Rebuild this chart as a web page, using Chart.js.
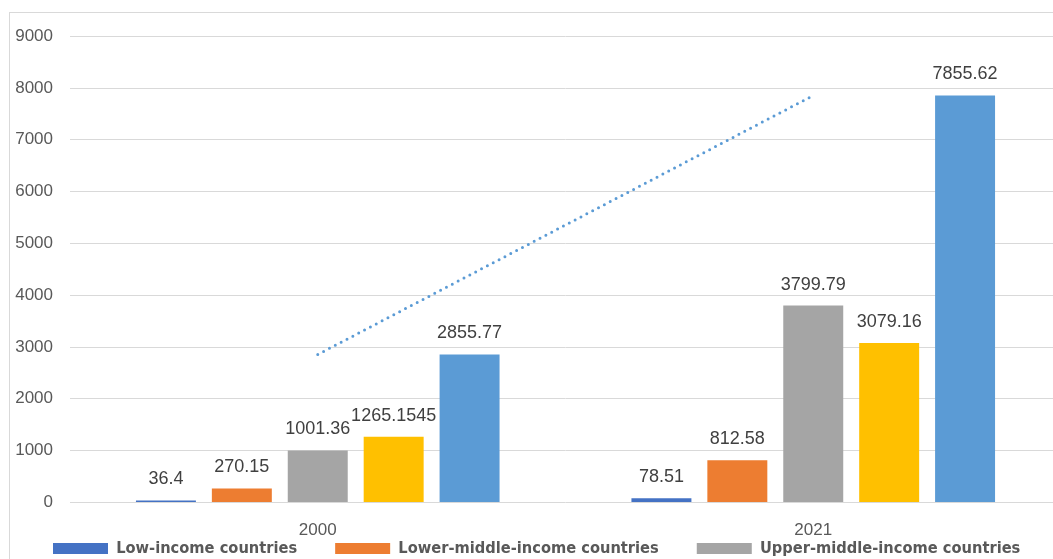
<!DOCTYPE html>
<html>
<head>
<meta charset="utf-8">
<script src="https://cdn.jsdelivr.net/npm/chart.js@4.4.0/dist/chart.umd.min.js"></script>
<style>
  html, body { margin: 0; padding: 0; background: #fff; overflow: hidden; width: 1053px; height: 559px; }
  #frame { position: absolute; left: 9px; top: 12px; width: 1100px; height: 700px; border: 1px solid #d9d9d9; }
  #chart { position: absolute; left: 15px; top: 9px; }
</style>
</head>
<body>
<div id="frame"></div>
<canvas id="chart" width="1046" height="612"></canvas>
<script>
// ── Data ──────────────────────────────────────────────────────────────────────
const years = ["2000", "2021"];
const seriesNames = [
    "Low-income countries",
    "Lower-middle-income countries",
    "Upper-middle-income countries",
    "Middle-income countries",
    "High-income countries"
];
const lowIncome         = [36.4, 78.51];
const lowerMiddleIncome = [270.15, 812.58];
const upperMiddleIncome = [1001.36, 3799.79];
const middleIncome      = [1265.1545, 3079.16];
const highIncome        = [2855.77, 7855.62];
const seriesColors = ["#4472C4", "#ED7D31", "#A5A5A5", "#FFC000", "#5B9BD5"];
const yTicks = [0, 1000, 2000, 3000, 4000, 5000, 6000, 7000, 8000, 9000];

const seriesValues = [lowIncome, lowerMiddleIncome, upperMiddleIncome, middleIncome, highIncome];

// ── Value labels above the bars ───────────────────────────────────────────────
const barLabels = {
    id: "barLabels",
    afterDatasetsDraw(chart) {
        const ctx = chart.ctx;
        ctx.save();
        ctx.font = '18px "Liberation Sans", Arial, sans-serif';
        ctx.fillStyle = "#404040";
        ctx.textAlign = "center";
        ctx.textBaseline = "middle";
        chart.data.datasets.forEach((ds, i) => {
            if (ds.type === "line") return;
            chart.getDatasetMeta(i).data.forEach((el, j) => {
                ctx.fillText(String(ds.data[j]), el.x, el.y - 21);
            });
        });
        ctx.restore();
    }
};

// ── Chart ─────────────────────────────────────────────────────────────────────
const datasets = seriesNames.map((name, i) => ({
    label: name,
    data: seriesValues[i],
    backgroundColor: seriesColors[i],
    borderWidth: 0,
    categoryPercentage: 0.766,
    barPercentage: 0.79
}));

// linear trendline of the high-income series
datasets.push({
    type: "line",
    label: "trend",
    data: highIncome,
    borderColor: "#5B9BD5",
    borderWidth: 3,
    borderDash: [0, 6.6],
    borderCapStyle: "round",
    pointRadius: 0,
    fill: false
});

new Chart(document.getElementById("chart"), {
    type: "bar",
    data: { labels: years, datasets: datasets },
    options: {
        responsive: false,
        animation: false,
        layout: { padding: 0 },
        plugins: {
            tooltip: { enabled: false },
            legend: {
                position: "bottom",
                align: "start",
                labels: {
                    filter: item => item.text !== "trend",
                    boxWidth: 55,
                    boxHeight: 11,
                    padding: 38,
                    color: "#595959",
                    font: { family: '"DejaVu Sans Condensed", "Liberation Sans Narrow", Roboto, sans-serif', size: 16.3, weight: "bold" }
                }
            }
        },
        scales: {
            x: {
                grid: { display: false, drawTicks: false },
                border: { display: false },
                ticks: {
                    color: "#595959",
                    mirror: true,
                    padding: -38,
                    font: { family: '"Liberation Sans", Arial, sans-serif', size: 17 }
                },
                afterFit: s => { s.height = 0; }
            },
            y: {
                min: 0,
                max: 9000,
                afterBuildTicks: s => { s.ticks = yTicks.map(v => ({ value: v })); },
                grid: { color: "#d9d9d9", lineWidth: 1, drawTicks: false },
                border: { display: false },
                ticks: {
                    color: "#595959",
                    padding: 17,
                    callback: v => String(v),
                    font: { family: '"Liberation Sans", Arial, sans-serif', size: 17 }
                },
                afterFit: s => { s.width = 55; }
            }
        }
    },
    plugins: [barLabels]
});
</script>
</body>
</html>
